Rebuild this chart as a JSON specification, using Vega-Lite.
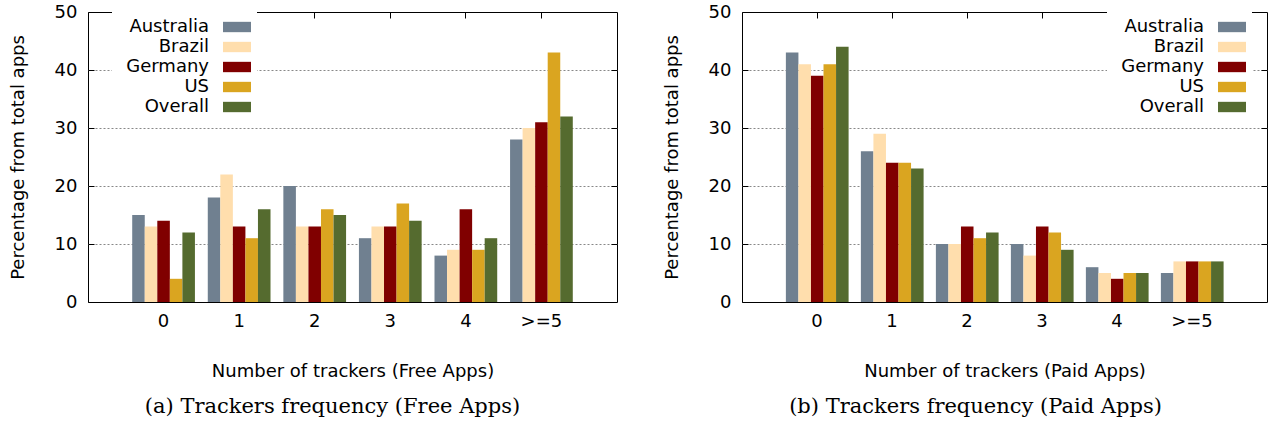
{
  "$schema": "https://vega.github.io/schema/vega-lite/v6.json",
  "background": "white",
  "padding": {"left": 8, "top": 2, "right": 3, "bottom": 2},
  "config": {
    "font": "DejaVu Sans",
    "view": {"stroke": "black", "strokeWidth": 1},
    "axis": {"labelFont": "DejaVu Sans", "labelFontSize": 18, "titleFont": "DejaVu Sans", "titleFontSize": 18, "titleFontWeight": "normal", "labelColor": "black", "titleColor": "black", "tickColor": "black", "domainColor": "black"},
    "legend": {"labelFont": "DejaVu Sans", "labelFontSize": 18, "labelColor": "black"},
    "title": {"font": "DejaVu Serif", "fontSize": 21, "fontWeight": "normal", "color": "black"}
  },
  "datasets": {
    "free": [
      {"trackers": "0", "country": "Australia", "pct": 15},
      {"trackers": "0", "country": "Brazil", "pct": 13},
      {"trackers": "0", "country": "Germany", "pct": 14},
      {"trackers": "0", "country": "US", "pct": 4},
      {"trackers": "0", "country": "Overall", "pct": 12},
      {"trackers": "1", "country": "Australia", "pct": 18},
      {"trackers": "1", "country": "Brazil", "pct": 22},
      {"trackers": "1", "country": "Germany", "pct": 13},
      {"trackers": "1", "country": "US", "pct": 11},
      {"trackers": "1", "country": "Overall", "pct": 16},
      {"trackers": "2", "country": "Australia", "pct": 20},
      {"trackers": "2", "country": "Brazil", "pct": 13},
      {"trackers": "2", "country": "Germany", "pct": 13},
      {"trackers": "2", "country": "US", "pct": 16},
      {"trackers": "2", "country": "Overall", "pct": 15},
      {"trackers": "3", "country": "Australia", "pct": 11},
      {"trackers": "3", "country": "Brazil", "pct": 13},
      {"trackers": "3", "country": "Germany", "pct": 13},
      {"trackers": "3", "country": "US", "pct": 17},
      {"trackers": "3", "country": "Overall", "pct": 14},
      {"trackers": "4", "country": "Australia", "pct": 8},
      {"trackers": "4", "country": "Brazil", "pct": 9},
      {"trackers": "4", "country": "Germany", "pct": 16},
      {"trackers": "4", "country": "US", "pct": 9},
      {"trackers": "4", "country": "Overall", "pct": 11},
      {"trackers": ">=5", "country": "Australia", "pct": 28},
      {"trackers": ">=5", "country": "Brazil", "pct": 30},
      {"trackers": ">=5", "country": "Germany", "pct": 31},
      {"trackers": ">=5", "country": "US", "pct": 43},
      {"trackers": ">=5", "country": "Overall", "pct": 32}
    ],
    "paid": [
      {"trackers": "0", "country": "Australia", "pct": 43},
      {"trackers": "0", "country": "Brazil", "pct": 41},
      {"trackers": "0", "country": "Germany", "pct": 39},
      {"trackers": "0", "country": "US", "pct": 41},
      {"trackers": "0", "country": "Overall", "pct": 44},
      {"trackers": "1", "country": "Australia", "pct": 26},
      {"trackers": "1", "country": "Brazil", "pct": 29},
      {"trackers": "1", "country": "Germany", "pct": 24},
      {"trackers": "1", "country": "US", "pct": 24},
      {"trackers": "1", "country": "Overall", "pct": 23},
      {"trackers": "2", "country": "Australia", "pct": 10},
      {"trackers": "2", "country": "Brazil", "pct": 10},
      {"trackers": "2", "country": "Germany", "pct": 13},
      {"trackers": "2", "country": "US", "pct": 11},
      {"trackers": "2", "country": "Overall", "pct": 12},
      {"trackers": "3", "country": "Australia", "pct": 10},
      {"trackers": "3", "country": "Brazil", "pct": 8},
      {"trackers": "3", "country": "Germany", "pct": 13},
      {"trackers": "3", "country": "US", "pct": 12},
      {"trackers": "3", "country": "Overall", "pct": 9},
      {"trackers": "4", "country": "Australia", "pct": 6},
      {"trackers": "4", "country": "Brazil", "pct": 5},
      {"trackers": "4", "country": "Germany", "pct": 4},
      {"trackers": "4", "country": "US", "pct": 5},
      {"trackers": "4", "country": "Overall", "pct": 5},
      {"trackers": ">=5", "country": "Australia", "pct": 5},
      {"trackers": ">=5", "country": "Brazil", "pct": 7},
      {"trackers": ">=5", "country": "Germany", "pct": 7},
      {"trackers": ">=5", "country": "US", "pct": 7},
      {"trackers": ">=5", "country": "Overall", "pct": 7}
    ]
  },
  "bounds": "flush",
  "spacing": 125,
  "resolve": {"legend": {"color": "independent"}},
  "hconcat": [
    {
      "data": {"name": "free"},
      "width": 529,
      "height": 290,
      "title": {"text": "(a) Trackers frequency (Free Apps)", "orient": "bottom", "anchor": "middle", "frame": "group", "dx": -20, "offset": 16},
      "layer": [
        {
          "mark": {"type": "bar"},
          "encoding": {
            "x": {"field": "trackers", "type": "nominal", "sort": ["0", "1", "2", "3", "4", ">=5"],
              "scale": {"paddingInner": 0.17, "paddingOuter": 0.585},
              "axis": {"title": "Number of trackers (Free Apps)", "labelAngle": 0, "tickSize": -6, "labelPadding": 16, "titlePadding": 32, "domain": false, "grid": false}},
            "xOffset": {"field": "country", "type": "nominal", "sort": ["Australia", "Brazil", "Germany", "US", "Overall"], "scale": {"paddingInner": 0, "paddingOuter": 0}},
            "y": {"field": "pct", "type": "quantitative", "scale": {"domain": [0, 50]},
              "axis": {"title": "Percentage from total apps", "values": [0, 10, 20, 30, 40, 50], "tickSize": -6, "labelPadding": 17, "titlePadding": 27, "domain": false, "grid": false}},
            "color": {"field": "country", "type": "nominal", "sort": ["Australia", "Brazil", "Germany", "US", "Overall"],
              "scale": {"domain": ["Australia", "Brazil", "Germany", "US", "Overall"], "range": ["#708090", "#FFDEAD", "#800000", "#DAA520", "#556B2F"]},
              "legend": {"orient": "none", "legendX": 24, "legendY": 0, "title": null, "symbolType": "M-2,-0.74H2V0.74H-2Z", "symbolSize": 196, "symbolStrokeWidth": 0, "symbolOpacity": 1, "symbolOffset": 110, "labelOffset": -37, "labelAlign": "right", "fillColor": "white", "padding": 6, "rowPadding": 2, "labelLimit": 200}}
          }
        },
        {
          "mark": {"type": "bar", "opacity": 0},
          "encoding": {
            "x": {"field": "trackers", "type": "nominal", "sort": ["0", "1", "2", "3", "4", ">=5"],
              "axis": {"orient": "top", "title": null, "labels": false, "tickSize": -6, "domain": false, "grid": false}},
            "xOffset": {"field": "country", "type": "nominal", "sort": ["Australia", "Brazil", "Germany", "US", "Overall"]},
            "y": {"field": "pct", "type": "quantitative",
              "axis": {"orient": "right", "title": null, "labels": false, "values": [10, 20, 30, 40], "tickSize": -6, "domain": false, "grid": true, "gridDash": [2, 2], "gridColor": "#888888", "gridWidth": 1}}
          }
        }
      ],
      "resolve": {"axis": {"x": "independent", "y": "independent"}}
    },
    {
      "data": {"name": "paid"},
      "width": 525,
      "height": 290,
      "title": {"text": "(b) Trackers frequency (Paid Apps)", "orient": "bottom", "anchor": "middle", "frame": "group", "dx": -29, "offset": 16},
      "layer": [
        {
          "mark": {"type": "bar"},
          "encoding": {
            "x": {"field": "trackers", "type": "nominal", "sort": ["0", "1", "2", "3", "4", ">=5"],
              "scale": {"paddingInner": 0.17, "paddingOuter": 0.585},
              "axis": {"title": "Number of trackers (Paid Apps)", "labelAngle": 0, "tickSize": -6, "labelPadding": 16, "titlePadding": 32, "domain": false, "grid": false}},
            "xOffset": {"field": "country", "type": "nominal", "sort": ["Australia", "Brazil", "Germany", "US", "Overall"], "scale": {"paddingInner": 0, "paddingOuter": 0}},
            "y": {"field": "pct", "type": "quantitative", "scale": {"domain": [0, 50]},
              "axis": {"title": "Percentage from total apps", "values": [0, 10, 20, 30, 40, 50], "tickSize": -6, "labelPadding": 17, "titlePadding": 27, "domain": false, "grid": false}},
            "color": {"field": "country", "type": "nominal", "sort": ["Australia", "Brazil", "Germany", "US", "Overall"],
              "scale": {"domain": ["Australia", "Brazil", "Germany", "US", "Overall"], "range": ["#708090", "#FFDEAD", "#800000", "#DAA520", "#556B2F"]},
              "legend": {"orient": "none", "legendX": 365, "legendY": 0, "title": null, "symbolType": "M-2,-0.74H2V0.74H-2Z", "symbolSize": 196, "symbolStrokeWidth": 0, "symbolOpacity": 1, "symbolOffset": 110, "labelOffset": -37, "labelAlign": "right", "fillColor": "white", "padding": 6, "rowPadding": 2, "labelLimit": 200}}
          }
        },
        {
          "mark": {"type": "bar", "opacity": 0},
          "encoding": {
            "x": {"field": "trackers", "type": "nominal", "sort": ["0", "1", "2", "3", "4", ">=5"],
              "axis": {"orient": "top", "title": null, "labels": false, "tickSize": -6, "domain": false, "grid": false}},
            "xOffset": {"field": "country", "type": "nominal", "sort": ["Australia", "Brazil", "Germany", "US", "Overall"]},
            "y": {"field": "pct", "type": "quantitative",
              "axis": {"orient": "right", "title": null, "labels": false, "values": [10, 20, 30, 40], "tickSize": -6, "domain": false, "grid": true, "gridDash": [2, 2], "gridColor": "#888888", "gridWidth": 1}}
          }
        }
      ],
      "resolve": {"axis": {"x": "independent", "y": "independent"}}
    }
  ]
}
